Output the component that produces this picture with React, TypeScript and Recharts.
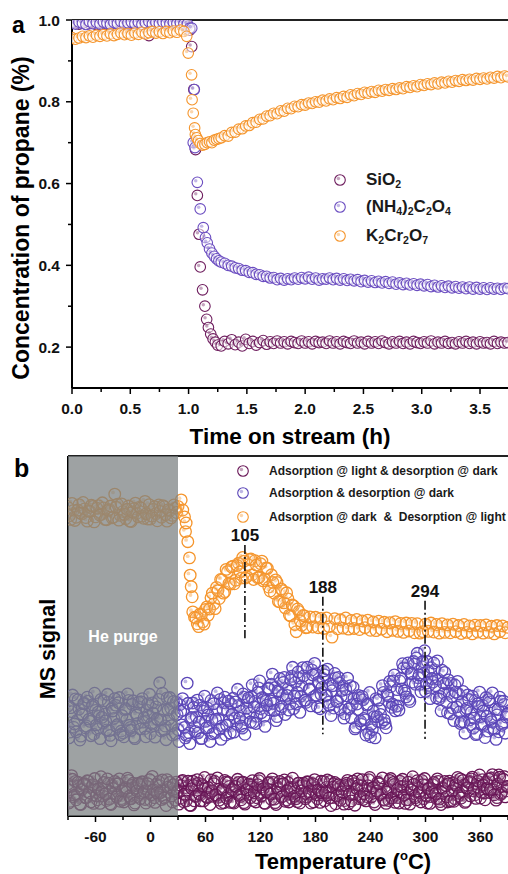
import React from 'react';
import { ScatterChart, Scatter, XAxis, YAxis, ReferenceLine, ReferenceArea, Legend } from 'recharts';

const FONT = '"Liberation Sans", Arial, Helvetica, sans-serif';

// ---------- panel a : propane concentration vs time on stream ----------
const seriesA = ['SiO2', '(NH4)2C2O4', 'K2Cr2O7'];
const colorsA = ['#6e1d5e', '#6a4cc0', '#f5952c'];

const timeTicks = [0, 0.25, 0.5, 0.75, 1, 1.25, 1.5, 1.75, 2, 2.25, 2.5, 2.75, 3, 3.25, 3.5];
const concTicks = [0.2, 0.3, 0.4, 0.5, 0.6, 0.7, 0.8, 0.9, 1.0];

// steady parts are sampled every 0.03 h, the fast drop is listed point by point
const sio2Pre = [0.992, 0.995, 0.990, 0.993, 0.996, 0.991, 0.994, 0.989, 0.993, 0.995,
  0.990, 0.994, 0.992, 0.996, 0.991, 0.993, 0.989, 0.994, 0.992, 0.995,
  0.990, 0.993, 0.962, 0.991, 0.994, 0.992, 0.995, 0.990, 0.993, 0.991,
  0.994, 0.989, 0.986];
const sio2DropT = [0.99, 1.01, 1.027, 1.045, 1.06, 1.075, 1.09, 1.10, 1.12, 1.14, 1.155, 1.17, 1.19, 1.21, 1.23, 1.25];
const sio2DropV = [0.985, 0.975, 0.935, 0.83, 0.683, 0.571, 0.476, 0.396, 0.34, 0.30, 0.268, 0.248, 0.232, 0.22, 0.212, 0.205];
const sio2Post = [0.203, 0.214, 0.208, 0.218, 0.206, 0.212, 0.203, 0.219, 0.209, 0.214,
  0.205, 0.211, 0.216, 0.207, 0.213, 0.209, 0.215, 0.210, 0.213, 0.208,
  0.214, 0.211, 0.209, 0.215, 0.210, 0.213, 0.208, 0.214, 0.211, 0.212,
  0.209, 0.215, 0.210, 0.213, 0.208, 0.214, 0.211, 0.209, 0.215, 0.210,
  0.212, 0.208, 0.214, 0.210, 0.213, 0.209, 0.215, 0.211, 0.208, 0.213,
  0.210, 0.214, 0.209, 0.212, 0.208, 0.214, 0.211, 0.209, 0.213, 0.210,
  0.215, 0.208, 0.212, 0.210, 0.214, 0.209, 0.211, 0.208, 0.213, 0.210,
  0.214, 0.209, 0.212, 0.208, 0.213, 0.210, 0.211, 0.208, 0.214, 0.209,
  0.212, 0.210, 0.211];

const nh4Pre = [0.994, 0.990, 0.995, 0.992, 0.989, 0.996, 0.991, 0.994, 0.990, 0.995,
  0.992, 0.989, 0.994, 0.991, 0.996, 0.990, 0.993, 0.995, 0.991, 0.994,
  0.989, 0.993, 0.996, 0.990, 0.994, 0.991, 0.995, 0.992, 0.990, 0.994,
  0.991, 0.993, 0.990];
const nh4DropT = [0.99, 1.01, 1.027, 1.04, 1.049, 1.055, 1.075, 1.10, 1.126, 1.145, 1.16, 1.18, 1.20, 1.22, 1.24, 1.26];
const nh4DropV = [0.99, 0.98, 0.98, 0.70, 0.83, 0.688, 0.603, 0.538, 0.492, 0.468, 0.455, 0.44, 0.43, 0.422, 0.416, 0.411];
const nh4Post = [0.408, 0.405, 0.400, 0.398, 0.394, 0.392, 0.388, 0.387, 0.383, 0.382,
  0.378, 0.377, 0.373, 0.373, 0.369, 0.370, 0.365, 0.368, 0.364, 0.367,
  0.365, 0.369, 0.366, 0.370, 0.367, 0.371, 0.366, 0.369, 0.364, 0.367,
  0.366, 0.369, 0.365, 0.368, 0.364, 0.367, 0.363, 0.366, 0.362, 0.365,
  0.360, 0.363, 0.359, 0.362, 0.358, 0.361, 0.357, 0.360, 0.356, 0.359,
  0.354, 0.357, 0.353, 0.356, 0.352, 0.355, 0.351, 0.354, 0.350, 0.353,
  0.348, 0.351, 0.347, 0.350, 0.346, 0.349, 0.345, 0.348, 0.344, 0.347,
  0.343, 0.347, 0.342, 0.346, 0.342, 0.345, 0.341, 0.345, 0.342, 0.344,
  0.341, 0.344, 0.343];

const k2Pre = [0.957, 0.953, 0.956, 0.960, 0.957, 0.961, 0.958, 0.963, 0.960, 0.964,
  0.961, 0.966, 0.962, 0.965, 0.968, 0.964, 0.967, 0.963, 0.968, 0.965,
  0.970, 0.966, 0.969, 0.972, 0.968, 0.971, 0.967, 0.972, 0.969, 0.973,
  0.970, 0.975, 0.972];
const k2DropT = [0.984, 0.997, 1.026, 1.03, 1.04, 1.052, 1.058, 1.07, 1.085, 1.10, 1.12, 1.14, 1.16, 1.18, 1.20, 1.22, 1.24, 1.26];
const k2DropV = [0.96, 0.919, 0.866, 0.805, 0.772, 0.736, 0.72, 0.712, 0.705, 0.698, 0.694, 0.696, 0.70, 0.702, 0.70, 0.706, 0.708, 0.71];
const k2Post = [0.712, 0.717, 0.716, 0.725, 0.726, 0.733, 0.734, 0.741, 0.742, 0.749,
  0.750, 0.757, 0.758, 0.765, 0.766, 0.772, 0.771, 0.778, 0.777, 0.784,
  0.783, 0.789, 0.788, 0.793, 0.792, 0.797, 0.796, 0.800, 0.799, 0.804,
  0.802, 0.807, 0.805, 0.810, 0.808, 0.813, 0.811, 0.817, 0.815, 0.820,
  0.818, 0.823, 0.821, 0.825, 0.823, 0.828, 0.826, 0.830, 0.828, 0.832,
  0.830, 0.834, 0.832, 0.837, 0.835, 0.839, 0.837, 0.842, 0.840, 0.844,
  0.842, 0.846, 0.844, 0.848, 0.846, 0.850, 0.848, 0.852, 0.850, 0.854,
  0.852, 0.855, 0.853, 0.857, 0.855, 0.858, 0.856, 0.860, 0.858, 0.862,
  0.859, 0.863, 0.861];

// ---------- panel b : MS signal vs temperature ----------
const seriesB = ['Adsorption @ light & desorption @ dark', 'Adsorption & desorption @ dark', 'Adsorption @ dark  &  Desorption @ light'];
const colorsB = ['#681556', '#5a45b8', '#f5952c'];
const tempTicks = [-90, -60, -30, 0, 30, 60, 90, 120, 150, 180, 210, 240, 270, 300, 330, 360, 390];

const peakLabels = ['105', '188', '294'];
const peakX = [103, 188, 299.5];
const peakTop = [75.3, 60.9, 59.8];
const peakBottom = [49.4, 22.7, 21.4];

// light adsorption / dark desorption: even degrees from -90, then odd degrees from -89
const lightDarkEven = [8.9, 4.1, 11.2, 5.3, 9.6, 6.0, 8.4, 3.2, 7.5, 9.0,
  5.1, 9.7, 6.4, 8.2, 3.5, 8.1, 4.5, 7.3, 10.9, 5.6,
  7.6, 4.3, 9.1, 3.4, 8.5, 6.2, 9.0, 5.8, 10.3, 4.8,
  4.5, 7.7, 6.7, 9.9, 4.8, 8.6, 3.1, 7.8, 5.4, 8.7,
  9.0, 6.3, 4.6, 8.2, 6.6, 4.3, 11.0, 5.1, 8.8, 6.0,
  8.4, 4.6, 7.4, 5.4, 10.1, 6.6, 7.8, 3.9, 6.9, 9.4,
  7.0, 4.9, 9.6, 4.0, 7.9, 6.9, 8.5, 2.9, 9.7, 4.2,
  5.6, 9.1, 5.8, 8.8, 4.2, 7.6, 5.1, 6.7, 10.0, 5.5,
  9.6, 5.7, 5.2, 7.6, 7.2, 3.7, 9.4, 5.7, 8.2, 6.6,
  3.9, 8.3, 6.1, 9.3, 5.4, 9.2, 3.7, 7.2, 6.0, 8.1,
  8.7, 4.3, 7.7, 5.1, 9.8, 6.3, 8.1, 3.6, 7.2, 9.1,
  7.3, 4.6, 9.3, 3.7, 8.2, 6.6, 8.8, 5.5, 10.0, 4.5,
  9.3, 6.0, 4.9, 7.9, 6.9, 4.0, 9.1, 5.4, 8.5, 6.3,
  5.3, 9.4, 6.1, 8.5, 3.9, 7.9, 4.8, 7.0, 9.7, 5.8,
  4.2, 8.0, 6.4, 9.6, 5.1, 8.9, 3.4, 7.5, 5.7, 8.4,
  7.6, 4.3, 9.1, 3.4, 8.5, 6.2, 9.0, 5.8, 10.3, 4.8,
  8.4, 4.6, 7.4, 5.4, 10.1, 6.6, 7.8, 3.9, 6.9, 9.4,
  9.0, 6.3, 4.6, 8.2, 6.6, 4.3, 10.4, 5.1, 8.8, 6.0,
  5.1, 9.7, 6.4, 8.2, 3.5, 8.1, 4.5, 7.3, 10.9, 5.6,
  4.5, 7.7, 6.7, 9.9, 4.8, 8.6, 3.6, 7.8, 5.4, 8.7,
  7.0, 4.9, 9.6, 4.0, 7.9, 6.9, 8.5, 3.9, 9.7, 4.2,
  9.2, 4.8, 8.2, 5.6, 10.3, 6.8, 8.6, 4.1, 7.7, 9.6,
  10.3, 7.0, 5.9, 8.9, 7.9, 5.0, 10.1, 6.4, 9.5, 7.3,
  6.5, 10.6, 7.3, 9.7, 5.1, 11.4, 6.0, 8.2, 10.9, 7.0,
  8.2];
const lightDarkOdd = [3.6, 8.2, 10.2, 5.8, 4.5, 9.4, 3.3, 7.3, 8.8, 5.1,
  9.8, 6.5, 3.9, 8.7, 10.4, 5.6, 7.6, 3.5, 6.7, 9.3,
  6.2, 10.3, 4.7, 3.2, 7.7, 9.6, 5.3, 9.0, 4.1, 7.0,
  3.9, 7.9, 10.5, 5.5, 4.8, 9.1, 3.6, 7.0, 9.1, 4.8,
  9.5, 6.8, 3.6, 9.0, 10.1, 5.9, 7.3, 3.8, 6.4, 9.6,
  6.5, 10.0, 5.0, 2.9, 8.0, 9.3, 5.6, 8.7, 4.4, 6.7,
  3.3, 8.5, 9.9, 6.1, 4.2, 9.7, 3.0, 7.6, 8.5, 5.4,
  10.1, 6.2, 4.2, 8.4, 10.7, 5.3, 7.9, 3.2, 7.0, 9.0,
  5.9, 10.6, 4.4, 3.5, 7.4, 9.9, 5.0, 9.3, 3.8, 7.3,
  3.6, 8.2, 10.2, 5.8, 4.5, 9.4, 3.3, 7.3, 8.8, 5.1,
  9.8, 6.5, 3.9, 8.7, 10.4, 5.6, 7.6, 3.5, 6.7, 9.3,
  6.2, 10.3, 4.7, 3.2, 7.7, 9.6, 5.3, 9.0, 4.1, 7.0,
  3.9, 7.9, 10.5, 5.5, 4.8, 9.1, 3.6, 7.0, 9.1, 4.8,
  9.5, 6.8, 3.6, 9.0, 10.1, 5.9, 7.3, 3.8, 6.4, 9.6,
  6.5, 10.0, 5.0, 2.9, 8.0, 9.3, 5.6, 8.7, 4.4, 6.7,
  3.3, 8.5, 9.9, 6.1, 4.2, 9.7, 3.0, 7.6, 8.5, 5.4,
  10.1, 6.2, 4.2, 8.4, 10.7, 5.3, 7.9, 3.2, 7.0, 9.0,
  5.9, 10.6, 4.4, 3.5, 7.4, 9.9, 5.0, 9.3, 3.8, 7.3,
  3.6, 8.2, 10.2, 5.8, 4.5, 9.4, 3.3, 7.3, 8.8, 5.1,
  9.8, 6.5, 3.9, 8.7, 10.4, 5.6, 7.6, 3.5, 6.7, 9.3,
  6.2, 10.3, 4.7, 3.2, 7.7, 9.6, 5.3, 9.0, 4.1, 7.0,
  4.1, 8.7, 10.7, 6.3, 5.0, 9.9, 3.8, 7.8, 9.3, 5.6,
  10.8, 7.5, 4.9, 9.7, 11.4, 6.6, 8.6, 4.5, 7.7, 10.3,
  7.4, 11.5, 5.9, 4.4, 8.9, 10.8, 6.5, 10.2, 5.3, 8.2];

// dark adsorption / dark desorption: even degrees from -90, then odd degrees from -89
const darkDarkEven = [30.6, 23.3, 29.0, 24.7, 32.5, 26.6, 29.7, 22.2, 28.1, 31.3,
  25.0, 31.9, 26.3, 30.4, 22.7, 29.3, 24.1, 27.8, 32.4, 25.8,
  28.3, 23.9, 31.6, 22.4, 29.9, 27.1, 30.8, 25.4, 32.9, 23.6,
  23.1, 29.5, 26.8, 32.1, 24.6, 31.0, 21.9, 28.6, 25.7, 30.2,
  31.7, 26.1, 24.3, 29.4, 27.7, 22.9, 31.4, 25.1, 30.3, 26.7,
  37.0, 23.6, 29.3, 25.0, 32.8, 26.9, 30.0, 22.5, 28.4, 31.6,
  24.0, 30.9, 25.3, 29.4, 21.7, 36.9, 23.1, 26.8, 31.4, 24.8,
  27.5, 23.1, 30.8, 21.6, 29.1, 26.3, 30.0, 24.6, 32.1, 22.8,
  23.1, 29.6, 27.0, 32.4, 25.0, 31.5, 22.5, 29.3, 26.5, 31.1,
  32.7, 27.2, 25.5, 30.7, 29.1, 24.4, 33.0, 26.8, 32.1, 28.6,
  33.1, 26.0, 31.8, 27.7, 35.6, 29.8, 32.9, 27.7, 31.9, 35.5,
  29.5, 36.6, 31.3, 35.7, 27.6, 34.5, 29.7, 33.6, 38.5, 32.6,
  35.3, 31.1, 38.8, 29.8, 37.1, 34.4, 38.3, 33.3, 41.2, 32.1,
  31.6, 38.0, 35.3, 40.6, 33.1, 39.5, 30.3, 36.9, 33.8, 38.2,
  39.2, 33.5, 31.6, 36.6, 34.8, 30.0, 38.3, 31.9, 37.0, 33.2,
  36.1, 28.4, 33.4, 29.7, 36.2, 30.9, 32.6, 24.7, 29.6, 32.8,
  25.5, 32.3, 26.7, 30.8, 23.0, 22.0, 24.0, 27.6, 32.6, 26.3,
  29.8, 26.0, 34.3, 25.7, 33.8, 31.6, 35.9, 31.1, 39.2, 30.5,
  30.6, 37.5, 35.3, 41.1, 34.1, 41.0, 32.4, 39.6, 37.2, 42.2,
  43.9, 38.4, 36.6, 41.5, 39.6, 34.6, 42.9, 36.3, 41.2, 37.2,
  40.6, 32.8, 38.0, 33.2, 40.5, 34.1, 36.7, 28.7, 34.1, 36.8,
  30.0, 36.4, 30.3, 33.9, 25.7, 31.8, 26.1, 29.3, 33.6, 26.7,
  28.8, 24.4, 32.1, 22.9, 30.4, 27.6, 30.8, 25.4, 32.9, 23.6,
  31.7, 26.2, 24.5, 29.7, 28.1, 23.4, 31.9, 25.7, 31.0, 27.5,
  28.6];
const darkDarkOdd = [21.7, 30.1, 33.6, 25.6, 23.4, 32.3, 21.1, 28.4, 31.2, 24.5,
  33.0, 26.9, 22.3, 30.9, 34.1, 25.3, 28.9, 21.5, 27.4, 32.0,
  26.4, 33.8, 23.7, 20.9, 29.2, 32.6, 24.8, 31.5, 22.6, 27.9,
  22.0, 29.8, 33.9, 25.2, 23.8, 32.0, 21.5, 28.0, 31.6, 24.2,
  32.6, 27.3, 22.0, 31.2, 33.8, 25.7, 28.5, 21.9, 27.0, 32.4,
  26.7, 34.1, 24.0, 21.2, 29.5, 32.9, 25.1, 31.8, 22.9, 28.2,
  20.7, 29.1, 32.6, 24.6, 22.4, 31.3, 20.1, 27.4, 30.2, 23.5,
  32.2, 26.1, 21.5, 30.1, 33.3, 24.5, 28.1, 20.7, 26.6, 31.2,
  26.8, 34.2, 24.1, 21.3, 29.6, 33.0, 25.2, 31.9, 23.0, 28.3,
  23.3, 31.7, 35.2, 27.2, 25.0, 33.9, 22.7, 30.0, 32.8, 26.1,
  36.4, 30.3, 25.7, 34.3, 37.5, 28.7, 32.3, 24.9, 30.8, 35.4,
  32.0, 39.4, 29.3, 26.5, 34.8, 38.2, 30.4, 37.1, 28.2, 33.5,
  29.4, 37.8, 41.3, 33.3, 31.1, 40.0, 28.8, 36.1, 38.9, 32.2,
  41.3, 35.2, 30.6, 39.2, 42.4, 33.6, 37.2, 29.8, 35.7, 40.3,
  33.4, 40.8, 30.7, 27.9, 36.2, 39.6, 31.8, 38.5, 29.6, 34.9,
  27.2, 35.2, 38.3, 29.9, 27.3, 35.8, 24.2, 31.1, 33.5, 26.4,
  33.2, 27.1, 22.5, 31.1, 34.3, 25.5, 29.1, 21.7, 27.6, 32.2,
  28.2, 36.2, 26.7, 24.5, 33.4, 37.4, 30.2, 37.5, 29.2, 35.1,
  29.4, 38.3, 42.3, 34.8, 33.1, 42.5, 31.8, 39.6, 42.9, 36.6,
  45.2, 39.2, 34.5, 42.9, 45.9, 36.9, 40.3, 32.6, 38.2, 42.5,
  36.2, 43.1, 32.5, 29.2, 37.0, 39.9, 31.6, 37.8, 28.4, 33.2,
  26.5, 34.4, 37.4, 28.9, 26.2, 34.6, 23.0, 29.9, 32.4, 25.4,
  33.3, 27.2, 22.6, 31.2, 34.4, 25.6, 29.2, 21.8, 27.7, 32.3,
  26.8, 34.2, 24.1, 21.3, 29.6, 33.0, 25.2, 31.9, 23.0, 28.3];

// dark adsorption / light desorption
const darkLightPre = [85.7, 82.4, 84.9, 83.0, 86.5, 83.9, 85.3, 81.9, 84.6, 86.0,
  83.1, 86.2, 83.8, 85.6, 82.3, 85.1, 82.8, 89.4, 86.6, 83.5,
  84.6, 82.6, 86.1, 81.8, 85.4, 84.1, 85.8, 83.3, 87.4, 82.5,
  82.5, 85.2, 84.0, 86.4, 83.0, 85.9, 81.9, 84.8, 83.5, 85.5,
  86.0];
const darkLightPreMid = [83.4, 86.8, 82.1, 85.0, 84.2, 87.1, 82.9, 84.7, 86.3, 81.7,
  85.5, 83.6, 87.0, 82.4, 84.9, 86.1, 83.0, 85.8, 82.2, 86.7,
  83.8, 85.2, 81.9, 84.4, 86.9, 83.1, 85.6, 82.7, 84.0, 86.5,
  83.3, 85.9, 82.0, 84.6, 86.2, 83.7, 85.1, 82.8, 86.4, 84.3];
const darkLightDropT = [33.5, 35.2, 37.1, 38.2, 38.9, 40.7, 42.5, 43.3, 44.4, 45.5, 46.1];
const darkLightDropV = [87.8, 85.0, 83.1, 79.0, 81.4, 76.2, 71.7, 66.9, 63.7, 60.9, 56.7];
const darkLightPost = [55.2, 53.4, 56.1, 53.9, 57.4, 55.8, 60.6, 58.9, 63.5, 60.4,
  65.6, 62.3, 67.9, 64.4, 69.4, 65.5, 70.2, 66.1, 70.8, 66.5,
  71.2, 67.0, 70.9, 66.2, 70.1, 65.3, 68.9, 63.6, 67.0, 61.9,
  64.9, 59.5, 62.6, 57.8, 60.3, 55.6, 58.4, 51.2, 56.8, 53.0,
  55.6, 52.4, 55.3, 52.5, 55.2, 52.3, 54.9, 52.1, 55.0, 52.6,
  49.7, 54.8, 52.0, 54.5, 52.2, 55.0, 51.9, 54.3, 52.1, 54.6,
  51.8, 54.2, 52.3, 54.4, 51.6, 53.9, 51.5, 54.1, 51.9, 53.8,
  51.2, 53.7, 51.6, 54.0, 51.3, 53.5, 51.0, 53.6, 51.4, 53.5,
  50.9, 53.4, 50.8, 51.2, 53.3, 51.3, 53.6, 51.1, 53.2, 50.8,
  53.4, 51.0, 53.1, 50.9, 53.3, 51.2, 52.9, 50.7, 53.2, 51.0,
  52.8, 50.6, 53.0, 51.1, 52.9, 50.8, 53.1, 51.0, 52.7, 50.6,
  52.9, 51.2, 52.8, 50.9, 52.4];
const darkLightPeakMid = [55.0, 52.6, 55.9, 53.3, 58.1, 57.5, 61.9, 57.6, 62.6, 65.7,
  61.9, 68.5, 64.6, 69.2, 64.5, 69.6, 67.8, 71.8, 66.1, 69.8,
  71.4, 65.7, 69.7, 66.3, 70.8, 65.8, 68.8, 62.5, 64.9, 65.6,
  59.6, 63.1, 59.2, 62.0, 55.8, 58.6, 53.2, 57.5, 54.2, 55.7,
  52.3];

const onGrid = (start: number, step: number, ys: number[]) =>
  ys.map((y, i) => ({ x: Math.round((start + i * step) * 1000) / 1000, y }));
const zipXY = (xs: number[], ys: number[]) => xs.map((x, i) => ({ x, y: ys[i] }));

const dataA = [
  [...onGrid(0, 0.03, sio2Pre), ...zipXY(sio2DropT, sio2DropV), ...onGrid(1.28, 0.03, sio2Post)],
  [...onGrid(0, 0.03, nh4Pre), ...zipXY(nh4DropT, nh4DropV), ...onGrid(1.28, 0.03, nh4Post)],
  [...onGrid(0, 0.03, k2Pre), ...zipXY(k2DropT, k2DropV), ...onGrid(1.28, 0.03, k2Post)],
];
const dataB = [
  [...onGrid(-90, 2, lightDarkEven), ...onGrid(-89, 2, lightDarkOdd)],
  [...onGrid(-90, 2, darkDarkEven), ...onGrid(-89, 2, darkDarkOdd)],
  [...onGrid(-90, 3, darkLightPre), ...onGrid(-88.5, 3, darkLightPreMid),
    ...zipXY(darkLightDropT, darkLightDropV), ...onGrid(48, 3, darkLightPost), ...onGrid(49.5, 3, darkLightPeakMid)],
];

// ---------- drawing helpers ----------
const tickFont = { fontFamily: FONT, fontWeight: 700, fontSize: 15.5, fill: '#111' };
const axisLine = { stroke: '#000', strokeWidth: 2 };

const ball = (color: string, r: number, fillOp: number, sw = 1.1) => (p: any) => {
  if (p.cx == null || p.cy == null) return <g />;
  return (
    <g>
      <circle cx={p.cx} cy={p.cy} r={r} fill="#fff" fillOpacity={fillOp} stroke={color} strokeWidth={sw} />
      <circle cx={p.cx - r * 0.3} cy={p.cy - r * 0.3} r={r * 0.33} fill={color} fillOpacity={0.4} />
    </g>
  );
};

const timeTick = (p: any) => {
  const v = p.payload.value as number;
  const major = Math.abs(v * 2 - Math.round(v * 2)) < 1e-6;
  return (
    <g>
      <line x1={p.x} x2={p.x} y1={p.y} y2={p.y + (major ? 6 : 4)} stroke="#000" strokeWidth={1.5} />
      {major && <text x={p.x} y={p.y + 26} textAnchor="middle" {...tickFont}>{v.toFixed(1)}</text>}
    </g>
  );
};

const concTick = (p: any) => {
  const v = p.payload.value as number;
  const major = Math.round(v * 10) % 2 === 0;
  return (
    <g>
      <line x1={p.x - (major ? 6 : 4)} x2={p.x} y1={p.y} y2={p.y} stroke="#000" strokeWidth={1.5} />
      {major && <text x={p.x - 12} y={p.y + 5.5} textAnchor="end" {...tickFont}>{v.toFixed(1)}</text>}
    </g>
  );
};

const tempTick = (p: any) => {
  const v = p.payload.value as number;
  const major = v % 60 === 0;
  return (
    <g>
      <line x1={p.x} x2={p.x} y1={p.y} y2={p.y + (major ? 6 : 4)} stroke="#000" strokeWidth={1.5} />
      {major && <text x={p.x} y={p.y + 26} textAnchor="middle" {...tickFont}>{String(v)}</text>}
    </g>
  );
};

const titleFont = { fontFamily: FONT, fontWeight: 700, fill: '#000' };

const concTitle = () => (
  <text transform="translate(28.5,218) rotate(-90)" textAnchor="middle" fontSize={23} {...titleFont}>
    Concentration of propane (%)
  </text>
);
const msTitle = () => (
  <text transform="translate(55,199) rotate(-90)" textAnchor="middle" fontSize={21.5} {...titleFont}>
    MS signal
  </text>
);
const tempTitle = (p: any) => (
  <text x={343} y={(p.viewBox?.y ?? 366) + 53} textAnchor="middle" fontSize={22} {...titleFont}>
    Temperature (<tspan fontSize={13} dy={-9}>o</tspan><tspan dy={9}>C)</tspan>
  </text>
);

const Chem = ({ f }: { f: string }) => (
  <>
    {f.split(/(\d)/).filter((s) => s !== '').map((s, i) =>
      /\d/.test(s)
        ? <span key={i} style={{ fontSize: '0.62em', position: 'relative', top: '0.35em' }}>{s}</span>
        : <span key={i}>{s}</span>,
    )}
  </>
);

const legendRowsA = [180, 207, 236];
const legendRowsB = [20.7, 43.3, 67.3];

const marker = (color: string, r: number) => (
  <svg width={14} height={14} style={{ overflow: 'visible', flex: 'none' }}>
    {ball(color, r, 0.5)({ cx: 7, cy: 7 })}
  </svg>
);

const legendA = () => (
  <div style={{ position: 'relative', width: 508, height: 1 }}>
    {seriesA.map((name, i) => (
      <div key={name} style={{ position: 'absolute', left: 333, top: legendRowsA[i] - 12, height: 24, display: 'flex', alignItems: 'center', whiteSpace: 'nowrap' }}>
        {marker(colorsA[i], 5.3)}
        <span style={{ marginLeft: 19, fontFamily: FONT, fontWeight: 700, fontSize: 17, color: '#1a1a1a', lineHeight: '24px' }}>
          <Chem f={name} />
        </span>
      </div>
    ))}
  </div>
);

const legendB = () => (
  <div style={{ position: 'relative', width: 508, height: 1 }}>
    {seriesB.map((name, i) => (
      <div key={name} style={{ position: 'absolute', left: 236, top: legendRowsB[i] - 10, height: 20, display: 'flex', alignItems: 'center', whiteSpace: 'pre' }}>
        {marker(colorsB[i], 5.3)}
        <span style={{ marginLeft: 19, fontFamily: FONT, fontWeight: 700, fontSize: 12, color: '#1a1a1a', lineHeight: '20px' }}>{name}</span>
      </div>
    ))}
  </div>
);

export default function App() {
  return (
    <div style={{ position: 'absolute', left: 0, top: 0, width: 508, height: 874, background: '#fff', overflow: 'hidden' }}>
      <div style={{ position: 'absolute', left: 0, top: 0 }}>
        <ScatterChart width={508} height={450} margin={{ top: 20, right: 0, bottom: 0, left: 0 }}>
          <XAxis type="number" dataKey="x" domain={[0, 3.74]} allowDataOverflow ticks={timeTicks} interval={0}
            height={62} tickSize={0} tickMargin={0} tickLine={false} tick={timeTick} axisLine={axisLine}
            label={{ value: 'Time on stream (h)', position: 'insideBottom', offset: 6, fontSize: 22.5, ...titleFont }} />
          <YAxis type="number" dataKey="y" domain={[0.1, 1.0]} allowDataOverflow ticks={concTicks} interval={0}
            width={72} tickSize={0} tickMargin={0} tickLine={false} tick={concTick} axisLine={axisLine}
            label={concTitle} />
          <ReferenceLine y={1.0} stroke="#222" strokeWidth={2} />
          {dataA.map((d, i) => (
            <Scatter key={seriesA[i]} name={seriesA[i]} data={d} isAnimationActive={false}
              shape={ball(colorsA[i], 5.3, 0.55)} />
          ))}
          <Legend layout="vertical" align="center" verticalAlign="middle" content={legendA}
            wrapperStyle={{ left: 0, top: 0, width: 508 }} />
        </ScatterChart>
      </div>

      <div style={{ position: 'absolute', left: 0, top: 450 }}>
        <ScatterChart width={508} height={424} margin={{ top: 6, right: 0, bottom: 0, left: 0 }}>
          <XAxis type="number" dataKey="x" domain={[-90, 390]} allowDataOverflow ticks={tempTicks} interval={0}
            height={58} tickSize={0} tickMargin={0} tickLine={false} tick={tempTick} axisLine={axisLine}
            label={tempTitle} />
          <YAxis type="number" dataKey="y" domain={[0, 100]} allowDataOverflow tick={false} tickLine={false}
            width={68} axisLine={axisLine} label={msTitle} />
          <ReferenceLine y={100} stroke="#222" strokeWidth={2} />
          {dataB.map((d, i) => (
            <Scatter key={seriesB[i]} name={seriesB[i]} data={d} isAnimationActive={false}
              shape={ball(colorsB[i], 5.8, 0.08, 1.3)} />
          ))}
          <ReferenceArea x1={-90} x2={30} fill="#7c8283" fillOpacity={0.74} stroke="none" zIndex={700}
            label={{ value: 'He purge', position: 'center', fill: '#fff', fontSize: 16, fontWeight: 700, fontFamily: FONT }} />
          {peakX.map((px, i) => (
            <ReferenceLine key={peakLabels[i]} segment={[{ x: px, y: peakTop[i] }, { x: px, y: peakBottom[i] }]}
              stroke="#111" strokeWidth={1.6} strokeDasharray="9 3 2 3" zIndex={750}
              label={{ value: peakLabels[i], position: 'top', offset: 4, fill: '#111', fontSize: 17, fontWeight: 700, fontFamily: FONT }} />
          ))}
          <Legend layout="vertical" align="center" verticalAlign="middle" content={legendB}
            wrapperStyle={{ left: 0, top: 0, width: 508 }} />
        </ScatterChart>
      </div>

      <svg width={508} height={874} style={{ position: 'absolute', left: 0, top: 0, pointerEvents: 'none' }}>
        <text x={12} y={33} fontSize={23} {...titleFont}>a</text>
        <text x={14} y={477} fontSize={25} {...titleFont}>b</text>
      </svg>
    </div>
  );
}
